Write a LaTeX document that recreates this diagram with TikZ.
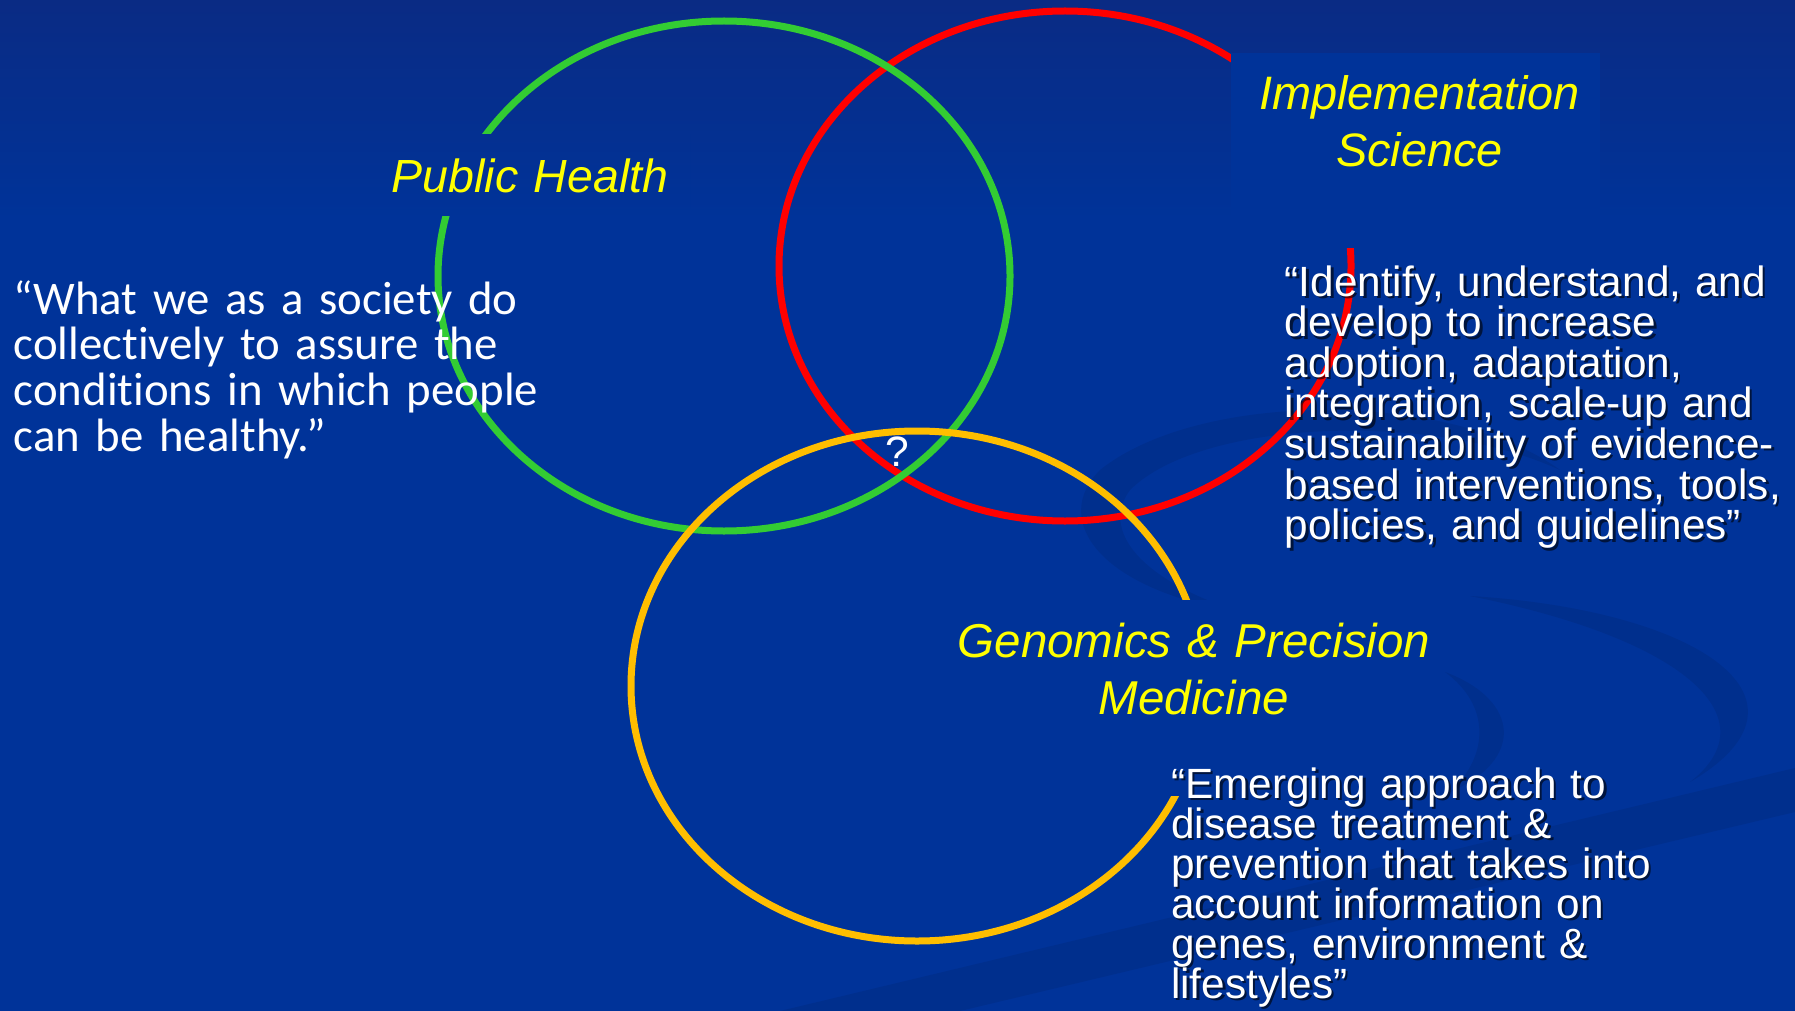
\documentclass[tikz,border=0pt]{standalone}
\usepackage{fontspec}
\setmainfont{Liberation Sans}
\newfontfamily\calibrifont[Ligatures={TeX,NoCommon}]{Carlito}
\definecolor{bgmain}{RGB}{0,51,153}
\definecolor{bgtop}{RGB}{10,43,132}
\definecolor{phgreen}{RGB}{51,204,51}
\definecolor{isred}{RGB}{255,0,0}
\definecolor{gporange}{RGB}{255,190,0}
\definecolor{titleyellow}{RGB}{255,255,0}
\begin{document}
\begin{tikzpicture}[x=1pt,y=-1pt,
  ring/.style={line width=7pt},
  coverbox/.style={fill=bgmain},
  swooshfill/.style={fill=black, fill opacity=0.08},
  bgshade/.style={top color=bgtop, bottom color=bgmain},
  title/.style={font=\fontsize{46.5}{57}\selectfont\itshape, text=titleyellow,
    inner sep=0pt, text width=600pt, align=center, anchor=base},
  quote/.style={font=\fontsize{42.3}{40.6}\selectfont, text=white,
    inner sep=0pt, text width=560pt, align=left, anchor=base west},
  quoteshadow/.style={quote, text=black, text opacity=0.6},
  calquote/.style={font=\calibrifont\fontsize{46.8}{45.8}\selectfont, text=white,
    inner sep=0pt, text width=600pt, align=left, anchor=base west},
]
\useasboundingbox (0,0) rectangle (1795,1011);
% background
\fill[bgmain] (0,0) rectangle (1795,1011);
\shade[bgshade] (0,0) rectangle (1795,220);
% faint swooshes
\fill[swooshfill] (1560,470) .. controls (1450,390) and (1200,390) .. (1100,470)
  .. controls (1050,520) and (1100,590) .. (1240,612)
  .. controls (1140,580) and (1100,530) .. (1130,490)
  .. controls (1200,420) and (1430,410) .. (1560,470) -- cycle;
\fill[swooshfill] (1470,596) .. controls (1700,610) and (1830,700) .. (1690,782)
  .. controls (1770,720) and (1690,640) .. (1470,596) -- cycle;
\fill[swooshfill] (1445,672) .. controls (1520,700) and (1525,760) .. (1450,792)
  .. controls (1490,755) and (1490,705) .. (1445,672) -- cycle;
\fill[swooshfill] (780,1011) -- (1795,768) -- (1795,812) -- (960,1011) -- cycle;
% circles
\draw[ring, isred] (1065,266) ellipse [x radius=286pt, y radius=255pt];
\draw[ring, phgreen] (724,276) ellipse [x radius=286pt, y radius=255pt];
\draw[ring, gporange] (917,686) ellipse [x radius=286pt, y radius=255pt];
% label boxes that cover the rings
\begin{scope}
  \clip (370,135) rectangle (690,215);
  \fill[bgmain] (0,0) rectangle (1795,1011);
  \shade[bgshade] (0,0) rectangle (1795,220);
\end{scope}
\fill[coverbox] (1231,53) rectangle (1600,248);
\fill[coverbox] (950,600) rectangle (1440,796);
% titles
\node[title] (ph) at (530,192.7) {Public Health};
\node[title, font=\fontsize{46.9}{57}\selectfont\itshape] (is) at (1419.6,109.6) {Implementation\\Science};
\node[title, font=\fontsize{47.5}{57}\selectfont\itshape] (gp) at (1194,657.6) {Genomics \& Precision\\Medicine};
% quotes
\node[calquote] (phq) at (13.7,314) {“What we as a society do\\collectively to assure the\\conditions in which people\\can be healthy.”};
\node[quoteshadow] (isqs) at (1287,298.5) {“Identify, understand, and\\develop to increase\\adoption, adaptation,\\integration, scale-up and\\sustainability of evidence-\\based interventions, tools,\\policies, and guidelines”};
\node[quote] (isq) at (1284.5,296) {“Identify, understand, and\\develop to increase\\adoption, adaptation,\\integration, scale-up and\\sustainability of evidence-\\based interventions, tools,\\policies, and guidelines”};
\node[quoteshadow, font=\fontsize{42.3}{40}\selectfont] (gpqs) at (1173.5,800.5) {“Emerging approach to\\disease treatment \&\\prevention that takes into\\account information on\\genes, environment \&\\lifestyles”};
\node[quote, font=\fontsize{42.3}{40}\selectfont] (gpq) at (1171,798) {“Emerging approach to\\disease treatment \&\\prevention that takes into\\account information on\\genes, environment \&\\lifestyles”};
\node[font=\fontsize{42.5}{42.5}\selectfont, text=white, inner sep=0pt, anchor=base] (qm) at (897.5,466.7) {?};
\end{tikzpicture}
\end{document}
